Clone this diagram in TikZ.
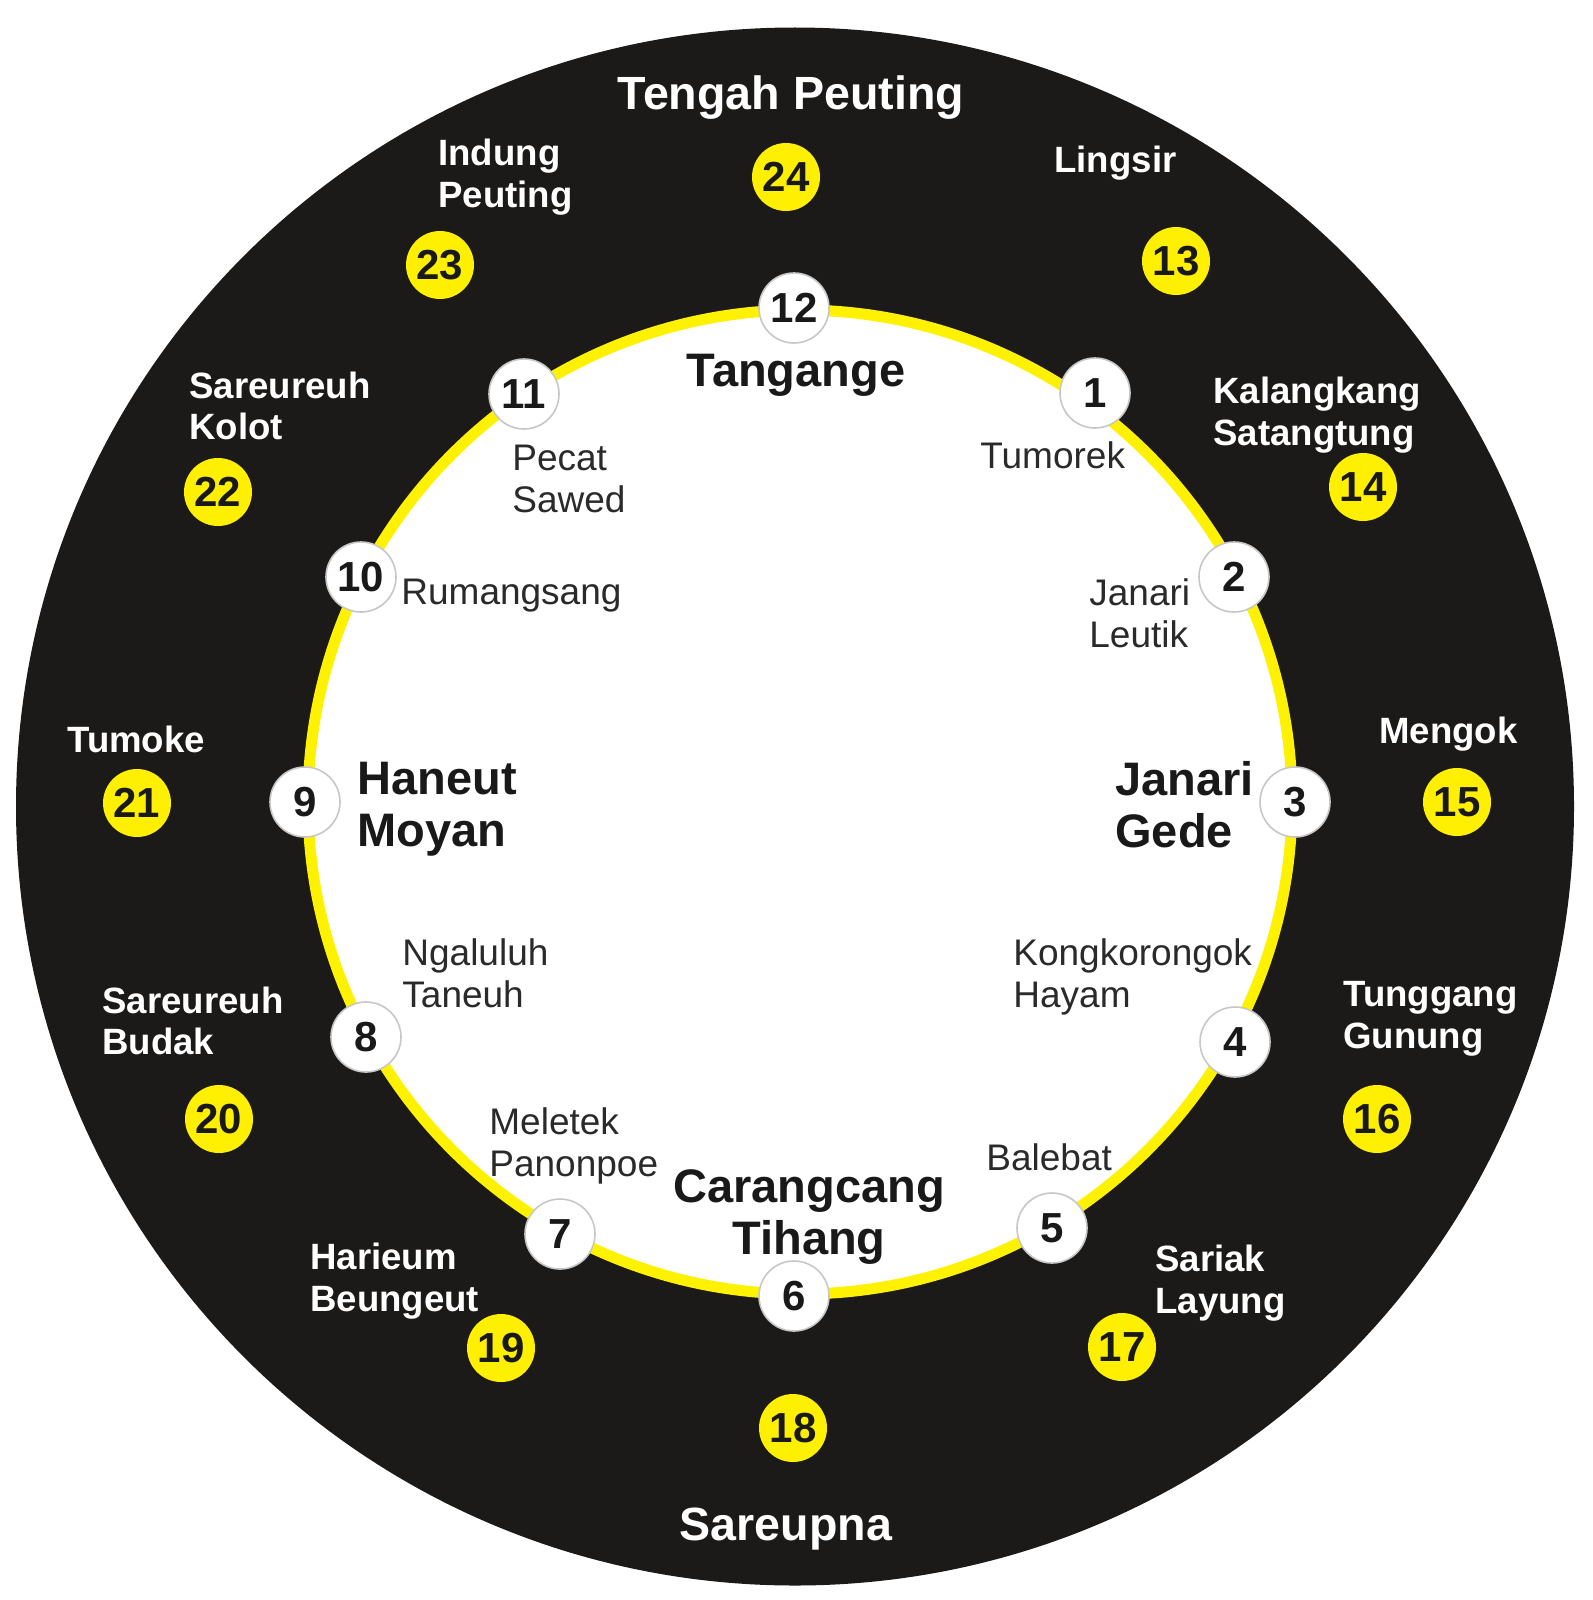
\documentclass[tikz,border=0pt]{standalone}
\usepackage{fontspec}
\setmainfont{Liberation Sans}
\definecolor{bgblack}{HTML}{1C1A18}
\definecolor{dotyellow}{HTML}{FFEF00}
\definecolor{ringyellow}{HTML}{FFF200}
\definecolor{labgray}{HTML}{2A2A2A}
\begin{document}
\begin{tikzpicture}[x=0.5pt,y=-0.5pt,
  hour/.style={circle,fill=white,draw=black!22,line width=0.8pt,minimum size=35pt,inner sep=0pt,
    font=\bfseries\fontsize{21}{21}\selectfont,text=black!90},
  dothour/.style={circle,fill=dotyellow,draw=none,minimum size=34pt,inner sep=0pt,
    font=\bfseries\fontsize{21}{21}\selectfont,text=black!90},
  outlab/.style={inner sep=0pt,align=left,anchor=west,text=white,
    font=\bfseries\fontsize{18.3}{20.8}\selectfont},
  biglab/.style={inner sep=0pt,text=white,font=\bfseries\fontsize{23.3}{26}\selectfont},
  inlab/.style={inner sep=0pt,align=left,anchor=west,text=black!90,
    font=\bfseries\fontsize{23.5}{26}\selectfont},
  smlab/.style={inner sep=0pt,align=left,anchor=west,text=labgray,
    font=\fontsize{18.5}{21}\selectfont}]
\useasboundingbox (0,0) rectangle (1592,1600);
\fill[white] (0,0) rectangle (1592,1600);
% dial
\fill[bgblack] (795,806.5) circle[radius=389.5pt];
\fill[white] (800,802) circle[radius=246pt];
\draw[ringyellow,line width=5.5pt] (800,802) circle[radius=246pt];
% inner hours
\node[hour] (h12) at (794,308) {12};
\node[hour] (h1) at (1095,393) {1};
\node[hour] (h2) at (1234,577) {2};
\node[hour] (h3) at (1295,802) {3};
\node[hour] (h4) at (1235,1042) {4};
\node[hour] (h5) at (1052,1228) {5};
\node[hour] (h6) at (794,1296) {6};
\node[hour] (h7) at (560,1234) {7};
\node[hour] (h8) at (366,1037) {8};
\node[hour] (h9) at (305,802) {9};
\node[hour] (h10) at (361,577) {10};
\node[hour] (h11) at (524,394) {11};
% outer hours
\node[dothour] (h24) at (786,177) {24};
\node[dothour] (h13) at (1176,261) {13};
\node[dothour] (h14) at (1363,487) {14};
\node[dothour] (h15) at (1457,802) {15};
\node[dothour] (h16) at (1377,1119) {16};
\node[dothour] (h17) at (1122,1347) {17};
\node[dothour] (h18) at (793,1428) {18};
\node[dothour] (h19) at (501,1348) {19};
\node[dothour] (h20) at (219,1119) {20};
\node[dothour] (h21) at (137,803) {21};
\node[dothour] (h22) at (218,492) {22};
\node[dothour] (h23) at (440,265) {23};
% outer labels
\node[biglab] (tengah) at (791,98) {Tengah Peuting};
\node[biglab] (sareupna) at (786,1529) {Sareupna};
\node[outlab] (indung) at (438,177) {Indung\\Peuting};
\node[outlab] (lingsir) at (1054,163) {Lingsir};
\node[outlab] (skolot) at (189,406) {Sareureuh\\Kolot};
\node[outlab] (kalang) at (1213,415) {Kalangkang\\Satangtung};
\node[outlab] (tumoke) at (67,739) {Tumoke};
\node[outlab] (mengok) at (1379,734) {Mengok};
\node[outlab] (sbudak) at (102,1021) {Sareureuh\\Budak};
\node[outlab] (tunggang) at (1343,1019) {Tunggang\\Gunung};
\node[outlab] (harieum) at (310,1281) {Harieum\\Beungeut};
\node[outlab] (sariak) at (1155,1283) {Sariak\\Layung};
% inner bold labels
\node[inlab,anchor=center] (tangange) at (796,375) {Tangange};
\node[inlab] (haneut) at (357,809) {Haneut\\Moyan};
\node[inlab] (jgede) at (1115,805) {Janari\\Gede};
\node[inlab,align=center,anchor=center] (carang) at (809,1217) {Carangcang\\Tihang};
% inner small labels
\node[smlab] (pecat) at (512,479) {Pecat\\Sawed};
\node[smlab] (tumorek) at (980,455) {Tumorek};
\node[smlab] (rumang) at (401,596) {Rumangsang};
\node[smlab] (jleutik) at (1089,613) {Janari\\Leutik};
\node[smlab] (ngaluluh) at (402,973) {Ngaluluh\\Taneuh};
\node[smlab] (kongko) at (1013,977) {Kongkorongok\\Hayam};
\node[smlab] (meletek) at (489,1146) {Meletek\\Panonpoe};
\node[smlab] (balebat) at (986,1157) {Balebat};
\end{tikzpicture}
\end{document}
